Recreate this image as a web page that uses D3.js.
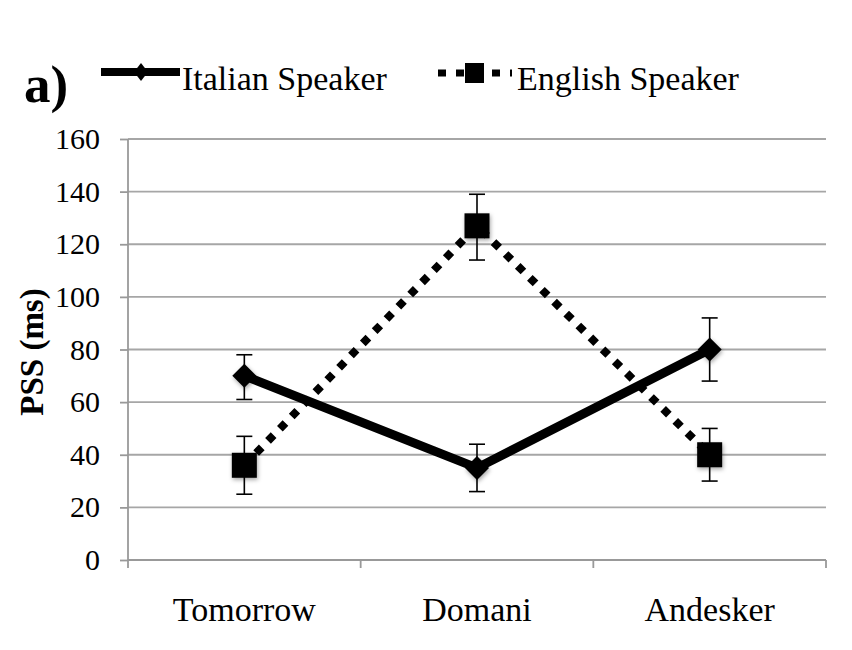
<!DOCTYPE html>
<html><head><meta charset="utf-8">
<script src="https://cdn.jsdelivr.net/npm/d3@7"></script>
<style>body{margin:0;background:#fff}svg{display:block}text{font-family:"Liberation Serif","Times New Roman",serif;fill:#000}</style>
</head><body>
<svg id="c" width="852" height="650"></svg>
<script>
const categories = ["Tomorrow", "Domani", "Andesker"];
const italian = [70, 35, 80];
const italianLow = [61, 26, 68];
const italianHigh = [78, 44, 92];
const english = [36, 127, 40];
const englishLow = [25, 114, 30];
const englishHigh = [47, 139, 50];
const yTicks = [0, 20, 40, 60, 80, 100, 120, 140, 160];
const seriesNames = ["Italian Speaker", "English Speaker"];

const svg = d3.select("#c");
const m = {l: 128, r: 826, t: 139, b: 560};
const x = d3.scaleBand().domain(categories).range([m.l, m.r]);
const y = d3.scaleLinear().domain([0, 160]).range([m.b, m.t]);
const cx = d => x(d) + x.bandwidth() / 2;

const defs = svg.append("defs");
const f = defs.append("filter").attr("id", "sh").attr("x", "-50%").attr("y", "-50%").attr("width", "200%").attr("height", "200%");
f.append("feDropShadow").attr("dx", 1).attr("dy", 2).attr("stdDeviation", 2).attr("flood-color", "#000").attr("flood-opacity", 0.35);

// gridlines
svg.append("g").selectAll("line").data(yTicks.filter(d => d > 0)).join("line")
  .attr("x1", m.l).attr("x2", m.r).attr("y1", d => y(d)).attr("y2", d => y(d))
  .attr("stroke", "#a6a6a6").attr("stroke-width", 1.8);

// y axis
const ya = svg.append("g").attr("transform", `translate(${m.l},0)`)
  .call(d3.axisLeft(y).tickValues(yTicks).tickSize(8).tickPadding(20));
ya.select(".domain").attr("stroke", "#999").attr("stroke-width", 1.8).attr("d", `M0,${m.t}V${m.b}`);
ya.selectAll(".tick line").attr("stroke", "#999").attr("stroke-width", 1.8);
ya.selectAll(".tick text").attr("font-size", 30).attr("font-family", "Liberation Serif").attr("fill", "#000");

// x axis
const xa = svg.append("g").attr("transform", `translate(0,${m.b})`)
  .call(d3.axisBottom(x).tickSize(0).tickPadding(37));
xa.select(".domain").attr("stroke", "#999").attr("stroke-width", 1.8).attr("d", `M${m.l},0H${m.r}`);
xa.selectAll(".tick text").attr("font-size", 34).attr("font-family", "Liberation Serif").attr("fill", "#000");
// band boundary ticks
svg.append("g").selectAll("line").data(categories.concat(["end"])).join("line")
  .attr("x1", (d, i) => i < categories.length ? x(d) : m.r)
  .attr("x2", (d, i) => i < categories.length ? x(d) : m.r)
  .attr("y1", m.b).attr("y2", m.b + 8).attr("stroke", "#999").attr("stroke-width", 1.8);

// lines
const line = d3.line().x((d, i) => cx(categories[i])).y(d => y(d));
svg.append("path").datum(english).attr("d", line).attr("fill", "none")
  .attr("stroke", "#000").attr("stroke-width", 8).attr("stroke-dasharray", "8 9");
svg.append("path").datum(italian).attr("d", line).attr("fill", "none")
  .attr("stroke", "#000").attr("stroke-width", 9);

// error bars
function errBars(lo, hi) {
  const g = svg.append("g").attr("stroke", "#000").attr("stroke-width", 1.6);
  categories.forEach((c, i) => {
    const X = cx(c);
    g.append("line").attr("x1", X).attr("x2", X).attr("y1", y(lo[i])).attr("y2", y(hi[i]));
    g.append("line").attr("x1", X - 8).attr("x2", X + 8).attr("y1", y(lo[i])).attr("y2", y(lo[i]));
    g.append("line").attr("x1", X - 8).attr("x2", X + 8).attr("y1", y(hi[i])).attr("y2", y(hi[i]));
  });
}
errBars(italianLow, italianHigh);
errBars(englishLow, englishHigh);

// markers
svg.append("g").attr("filter", "url(#sh)").selectAll("path").data(italian).join("path")
  .attr("d", "M0,-12L12,0L0,12L-12,0Z")
  .attr("transform", (d, i) => `translate(${cx(categories[i])},${y(d)})`).attr("fill", "#000");
svg.append("g").attr("filter", "url(#sh)").selectAll("rect").data(english).join("rect")
  .attr("x", (d, i) => cx(categories[i]) - 12.5).attr("y", d => y(d) - 12.5)
  .attr("width", 25).attr("height", 25).attr("fill", "#000");

// y label
svg.append("text").attr("transform", "translate(43,352) rotate(-90)")
  .attr("text-anchor", "middle").attr("font-size", 33).attr("font-weight", "bold").text("PSS (ms)");

// panel label
svg.append("text").attr("x", 24).attr("y", 102).attr("font-size", 53).attr("font-weight", "bold").text("a)");

// legend
const lg = svg.append("g");
lg.append("line").attr("x1", 101).attr("x2", 180).attr("y1", 72).attr("y2", 72).attr("stroke", "#000").attr("stroke-width", 8);
lg.append("path").attr("d", "M0,-9L7,0L0,9L-7,0Z").attr("transform", "translate(141,72)").attr("fill", "#000");
lg.append("text").attr("x", 182).attr("y", 90).attr("font-size", 34).text(seriesNames[0]);
lg.append("line").attr("x1", 438).attr("x2", 512).attr("y1", 73).attr("y2", 73).attr("stroke", "#000").attr("stroke-width", 7).attr("stroke-dasharray", "8 10");
lg.append("rect").attr("x", 465).attr("y", 63).attr("width", 19).attr("height", 20).attr("fill", "#000");
lg.append("text").attr("x", 517).attr("y", 90).attr("font-size", 34).text(seriesNames[1]);
</script>
</body></html>
